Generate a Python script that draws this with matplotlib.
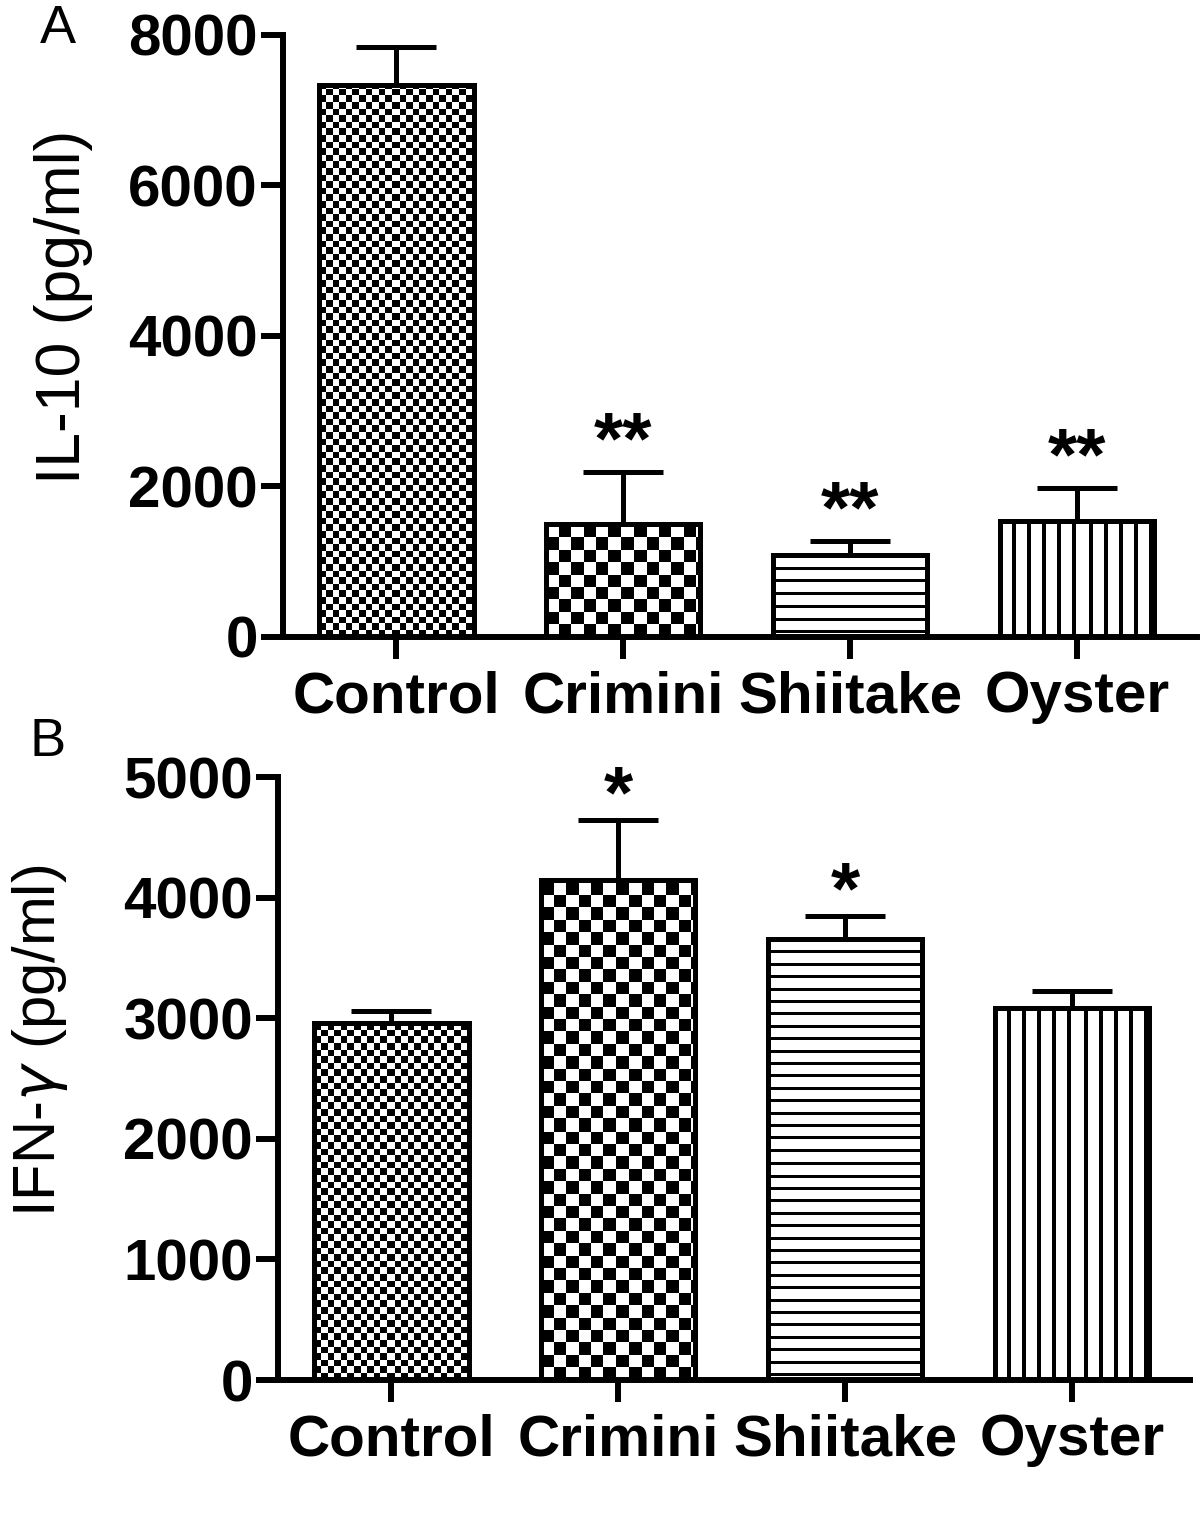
import numpy as np
import matplotlib
matplotlib.use("Agg")
import matplotlib.pyplot as plt

plt.rcParams['font.family'] = ['Liberation Sans', 'DejaVu Sans']

groups = ['Control', 'Crimini', 'Shiitake', 'Oyster']
patterns = ['fine', 'coarse', 'hlines', 'vlines']

il10_mean = [7330, 1500, 1090, 1540]
il10_sem = [510, 690, 190, 440]
il10_sig = ['', '**', '**', '**']

ifng_mean = [2960, 4150, 3660, 3085]
ifng_sem = [100, 490, 190, 140]
ifng_sig = ['', '*', '*', '']


def pattern_image(kind, wpx, hpx):
    yy, xx = np.mgrid[0:hpx, 0:wpx].astype(float)
    yy = hpx - 1 - yy  # start pattern at the top of the bar
    if kind == 'fine':
        img = (np.floor(xx / 6.6) + np.floor(yy / 6.6)) % 2
    elif kind == 'coarse':
        img = (np.floor(xx / 12.4) + np.floor(yy / 12.4)) % 2
    elif kind == 'hlines':
        img = ((yy + 9) % 12.4) < 3
    else:
        img = ((xx + 4) % 15.2) < 4
    return 1 - img.astype(float)


def draw_panel(ax, means, sems, sig, ymax, ystep, xmax, label, lab_size, lab_x, lab_y, star_off):
    x = np.arange(len(groups))
    ax.set_xlim(-0.5, xmax)
    ax.set_ylim(0, ymax)
    bars = ax.bar(x, means, width=0.68, facecolor='none', edgecolor='black',
                  linewidth=3.6, zorder=3)
    for bar, kind in zip(bars, patterns):
        x0, w, h = bar.get_x(), bar.get_width(), bar.get_height()
        (px0, py0), (px1, py1) = ax.transData.transform([(x0, 0), (x0 + w, h)])
        img = pattern_image(kind, int(round(px1 - px0)), int(round(py1 - py0)))
        ax.imshow(img, cmap='gray', vmin=0, vmax=1, extent=(x0, x0 + w, 0, h),
                  origin='upper', interpolation='nearest', aspect='auto', zorder=1)
    ax.errorbar(x, means, yerr=[np.zeros(len(x)), sems], fmt='none',
                ecolor='black', elinewidth=3.6, capsize=29, capthick=3.6, zorder=2)
    for xi, m, s, t in zip(x, means, sems, sig):
        if t:
            ax.annotate(t, xy=(xi, m + s), xytext=(0, star_off), textcoords='offset points',
                        ha='center', va='baseline', fontsize=54, fontweight='bold')
    ax.set_xlim(-0.5, xmax)
    ax.set_ylim(0, ymax)
    ax.set_yticks(np.arange(0, ymax + 1, ystep))
    ax.set_xticks(x)
    ax.set_xticklabels(groups)
    for s in ['top', 'right']:
        ax.spines[s].set_visible(False)
    for s in ['left', 'bottom']:
        ax.spines[s].set_linewidth(4.3)
    ax.tick_params(axis='both', width=4.3, length=16, labelsize=42)
    ax.tick_params(axis='y', pad=2)
    ax.tick_params(axis='x', pad=8)
    for t in ax.get_xticklabels() + ax.get_yticklabels():
        t.set_fontweight('bold')
    ax.set_ylabel(label, fontsize=lab_size)
    ax.yaxis.set_label_coords(lab_x, lab_y)


fig = plt.figure(figsize=(12, 15.13), dpi=100)
ax1 = fig.add_axes([0.2358, 0.579, 0.762, 0.398])
ax2 = fig.add_axes([0.2317, 0.0879, 0.760, 0.3985])

draw_panel(ax1, il10_mean, il10_sem, il10_sig, 8000, 2000, 3.53, 'IL-10 (pg/ml)', 45,
           -0.208, 0.548, 6)
draw_panel(ax2, ifng_mean, ifng_sem, ifng_sig, 5000, 1000, 3.52, 'IFN-$\\gamma$ (pg/ml)', 43,
           -0.228, 0.562, 2)

fig.text(40 / 1200, 1 - 29 / 1513, 'A', fontsize=39, ha='left', va='center')
fig.text(30 / 1200, 1 - 742 / 1513, 'B', fontsize=39, ha='left', va='center')

fig.savefig('out.png', dpi=100)
